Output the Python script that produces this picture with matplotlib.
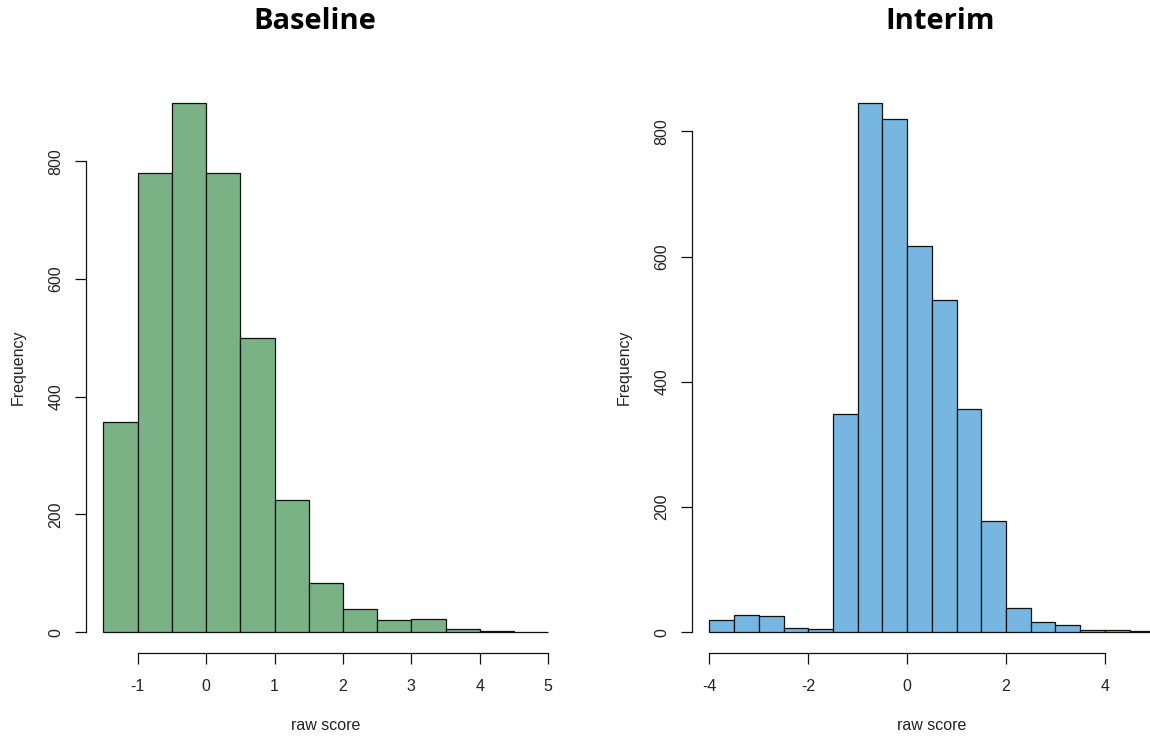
import matplotlib
matplotlib.use("Agg")
import matplotlib.pyplot as plt
import numpy as np

# ---- data ----
baseline_breaks = [-1.5, -1.0, -0.5, 0.0, 0.5, 1.0, 1.5, 2.0, 2.5, 3.0, 3.5, 4.0, 4.5, 5.0]
baseline_counts = [357, 780, 899, 780, 500, 224, 84, 40, 20, 23, 6, 2, 1]

interim_breaks = [-4.0, -3.5, -3.0, -2.5, -2.0, -1.5, -1.0, -0.5, 0.0, 0.5, 1.0, 1.5,
                  2.0, 2.5, 3.0, 3.5, 4.0, 4.5, 5.0]
interim_counts = [20, 28, 25, 7, 5, 348, 845, 820, 617, 530, 357, 178, 38, 16, 11, 4, 4, 2]

baseline_xticks = [-1, 0, 1, 2, 3, 4, 5]
interim_xticks = [-4, -2, 0, 2, 4]
yticks = [0, 200, 400, 600, 800]

titles = ["Baseline", "Interim"]
xlabel = "raw score"
ylabel = "Frequency"

green = "#7BB285"
blue = "#76B6E0"

W, H = 1150, 740
fig = plt.figure(figsize=(W / 100, H / 100), dpi=100)

tick_font = dict(family="Liberation Sans", size=11.5, color="#222222")


def px_axes(x0, x1, ytop, ybot):
    return fig.add_axes([x0 / W, 1 - ybot / H, (x1 - x0) / W, (ybot - ytop) / H])


def r_hist(ax, breaks, counts, color, xticks):
    breaks = np.asarray(breaks)
    widths = np.diff(breaks)
    ax.bar(breaks[:-1], counts, width=widths, align="edge", color=color,
           edgecolor="#111111", linewidth=0.9)
    lo, hi = breaks[0], breaks[-1]
    pad = 0.04 * (hi - lo)
    ax.set_xlim(lo - pad, hi + pad)
    ymax = max(counts)
    ax.set_ylim(-0.04 * ymax, ymax * 1.04)
    for s in ["top", "right"]:
        ax.spines[s].set_visible(False)
    for s in ["left", "bottom"]:
        ax.spines[s].set_linewidth(0.9)
        ax.spines[s].set_color("#111111")
    ax.spines["left"].set_bounds(yticks[0], yticks[-1])
    ax.spines["bottom"].set_bounds(xticks[0], xticks[-1])
    ax.set_xticks(xticks)
    ax.set_xticklabels([str(v) for v in xticks], fontdict=tick_font)
    ax.set_yticks(yticks)
    ax.set_yticklabels([str(v) for v in yticks], fontdict=tick_font,
                       rotation=90, va="center")
    ax.tick_params(axis="both", length=7.7, width=0.9, color="#111111")
    ax.tick_params(axis="x", pad=10.5)
    ax.tick_params(axis="y", pad=8.5)
    ax.patch.set_visible(False)


ax1 = px_axes(85.7, 566, 82, 653.3)
r_hist(ax1, baseline_breaks, baseline_counts, green, baseline_xticks)

ax2 = px_axes(691.7, 1172, 82, 653.3)
r_hist(ax2, interim_breaks, interim_counts, blue, interim_xticks)

title_font = dict(family="Open Sans", weight="bold", size=21, color="black")
fig.text(315 / W, 1 - 29 / H, titles[0], ha="center", va="baseline", **title_font)
fig.text(940 / W, 1 - 29 / H, titles[1], ha="center", va="baseline", **title_font)

lab_font = dict(family="Liberation Sans", size=11.5, color="#222222")
for xc in [326, 932]:
    fig.text(xc / W, 1 - 726 / H, xlabel, ha="center", va="center", **lab_font)
for yl_x in [18, 624]:
    fig.text(yl_x / W, 1 - 367 / H, ylabel, ha="center", va="center",
             rotation=90, **lab_font)

fig.savefig("out.png", dpi=100)
